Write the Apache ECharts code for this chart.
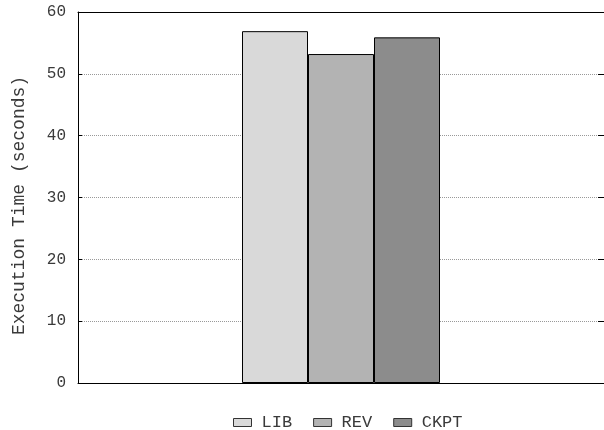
<!DOCTYPE html>
<html>
<head>
<meta charset="utf-8">
<script src="https://cdn.jsdelivr.net/npm/echarts@6/dist/echarts.min.js"></script>
<style>
  html, body { margin: 0; padding: 0; background: #fff; }
  #chart { width: 604px; height: 430px; }
</style>
</head>
<body>
<div id="chart"></div>
<script>
// Execution time per strategy (single benchmark run)
var categories = [''];
var seriesNames = ['LIB', 'REV', 'CKPT'];
var libValues = [56.9];
var revValues = [53.2];
var ckptValues = [55.9];
var yTicks = [0, 10, 20, 30, 40, 50, 60];

var fills = ['#d9d9d9', '#b3b3b3', '#8c8c8c'];
var FONT = 'Liberation Mono';
var TEXT = '#3a3a3a';

var chart = echarts.init(document.getElementById('chart'), null, { renderer: 'canvas' });

function barSeries(name, values, color) {
  return {
    name: name,
    type: 'bar',
    data: values,
    barWidth: 66,
    barGap: '0%',
    itemStyle: { color: color, borderColor: '#000', borderWidth: 1 },
    emphasis: { disabled: true }
  };
}

var yMin = yTicks[0];
var yMax = yTicks[yTicks.length - 1];
var yStep = yTicks[1] - yTicks[0];

chart.setOption({
  animation: false,
  textStyle: { fontFamily: FONT },
  // the plot runs a little past the right edge of the canvas
  grid: { left: 78, width: 529, top: 12, height: 371, containLabel: false },
  legend: {
    data: seriesNames,
    top: 414,
    left: 233,
    padding: 0,
    icon: 'rect',
    itemWidth: 18,
    itemHeight: 8,
    itemGap: 21,
    textStyle: { fontFamily: FONT, fontSize: 17, color: TEXT, padding: [0, 0, 0, 5] },
    itemStyle: { borderColor: '#333', borderWidth: 1 }
  },
  xAxis: [
    {
      type: 'category',
      data: categories,
      axisLine: { show: true, lineStyle: { color: '#000', width: 1 } },
      axisTick: { show: false },
      axisLabel: { show: false },
      splitLine: { show: false }
    },
    {
      type: 'category',
      data: categories,
      position: 'top',
      axisLine: { show: true, onZero: false, lineStyle: { color: '#000', width: 1 } },
      axisTick: { show: false },
      axisLabel: { show: false }
    }
  ],
  yAxis: [
    {
      type: 'value',
      min: yMin,
      max: yMax,
      interval: yStep,
      name: 'Execution Time (seconds)',
      nameLocation: 'middle',
      nameGap: 50,
      nameTextStyle: { fontFamily: FONT, fontSize: 18, color: TEXT, padding: [0, 16, 0, 0] },
      axisLine: { show: true, lineStyle: { color: '#000', width: 1 } },
      axisTick: { show: true, inside: true, length: 4, lineStyle: { color: '#000' } },
      axisLabel: { fontFamily: FONT, fontSize: 16, color: TEXT, margin: 12 },
      splitLine: { show: true, lineStyle: { color: '#999', type: 'dotted', width: 1 } }
    },
    {
      type: 'value',
      position: 'right',
      min: yMin,
      max: yMax,
      interval: yStep,
      axisLine: { show: false },
      axisTick: { show: true, inside: true, length: 6, lineStyle: { color: '#000' } },
      axisLabel: { show: false },
      splitLine: { show: false }
    }
  ],
  series: [
    barSeries(seriesNames[0], libValues, fills[0]),
    barSeries(seriesNames[1], revValues, fills[1]),
    barSeries(seriesNames[2], ckptValues, fills[2])
  ]
});
</script>
</body>
</html>
